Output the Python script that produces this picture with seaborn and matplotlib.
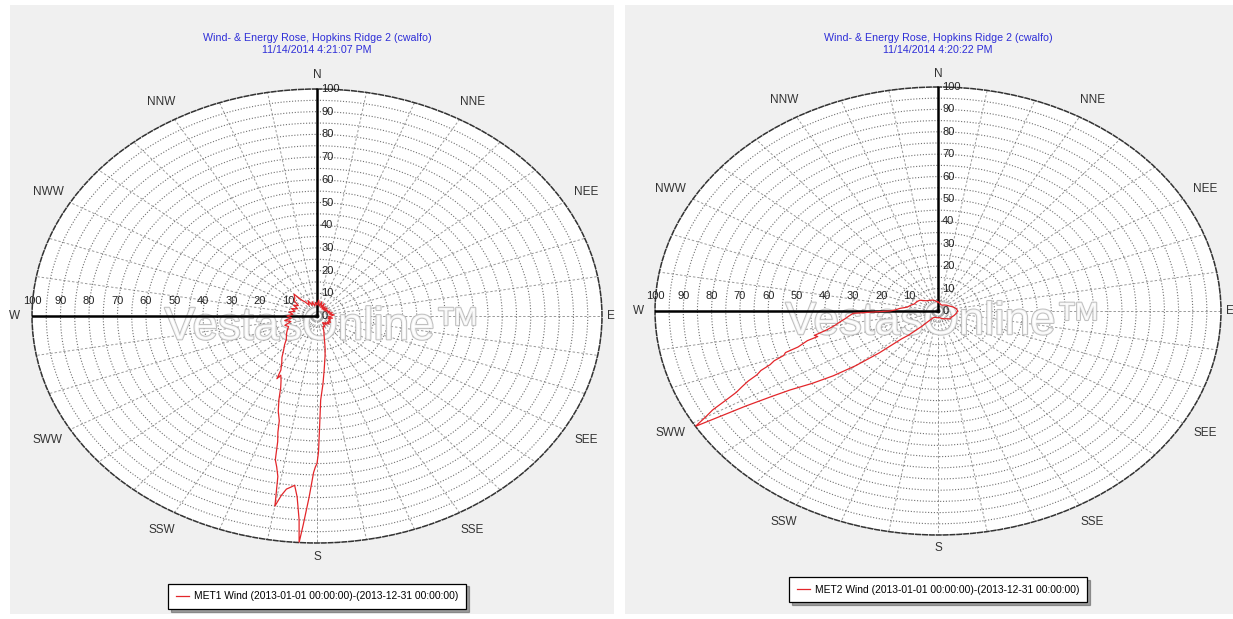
import numpy as np
import matplotlib
matplotlib.use("Agg")
import matplotlib.pyplot as plt
import matplotlib.patheffects as pe
from matplotlib.patches import Rectangle
from matplotlib.transforms import offset_copy
import seaborn as sns

plt.rcParams['font.family'] = ['Liberation Sans Narrow', 'Liberation Sans', 'DejaVu Sans']

# MET1 wind rose (direction in degrees, value in %)
met1_dir = [0, 5, 10, 15, 20, 25, 30, 35, 40, 45, 50, 55, 60, 65, 70, 75, 80, 85, 90, 95,
            100, 105, 110, 115, 120, 125, 130, 135, 140, 145, 150, 155, 160,
            164, 167, 169, 171, 174, 176, 178, 179, 179.5, 180, 180.5, 181, 182, 183, 183.6, 184,
            185, 186, 187, 188, 189, 190, 191, 192, 193, 194, 195, 196, 198, 200, 202, 204,
            206, 207, 208, 211, 214, 218, 222, 226, 230, 235, 240,
            245, 250, 255, 260, 265, 270, 275, 280, 285, 290, 295, 300, 305, 310, 315, 320,
            323, 326, 330, 335, 340, 345, 350, 355]
met1_val = [5, 7, 4.5, 6.5, 4, 6, 3.5, 5, 3.5, 5, 3.5, 4.5, 4, 5, 4, 5.5, 4.5, 6, 5, 4,
            5.5, 4, 5, 4.5, 5.5, 4.5, 5.5, 4, 5, 3.5, 5.5, 5, 7,
            9, 12, 15, 18, 24, 30, 37, 50, 60, 65, 66.5, 69, 80, 92, 100, 90,
            80, 75, 76, 77, 80, 85, 72, 68, 65, 57, 53, 48, 44, 39, 34, 31,
            29, 31, 27, 24, 22, 19, 17, 15, 14, 13, 12,
            11, 12, 9.5, 11.5, 9, 10.5, 8.5, 10, 8, 9.5, 7.5, 9.5, 8, 10.5, 11, 12.5,
            8.5, 7.5, 5.5, 7.5, 5, 6.5, 4.5, 6]

# MET2 wind rose
met2_dir = [0, 10, 20, 30, 40, 50, 60, 70, 80, 90, 100, 110, 120, 130, 140, 150, 160, 170,
            180, 190, 200, 210, 215, 220, 224, 226, 228, 230, 232, 234, 236, 237, 238, 239,
            240, 241, 242, 243, 244, 245, 246, 247, 248, 249, 250, 251, 252, 254, 255, 256,
            258, 260, 262, 264, 266, 268, 269, 270, 272, 275, 279, 285, 290, 300, 307, 315,
            320, 330, 340, 350]
met2_val = [4, 3.5, 3, 3, 3.5, 4, 4.5, 5.5, 6.5, 7, 6.5, 6, 5.5, 5.5, 4.5, 4, 3.5, 3,
            3, 3, 3, 3.5, 5, 9, 15, 18, 28, 38, 47, 55, 63, 70, 80, 100,
            95, 91, 85, 80, 77, 74, 70, 68, 64, 62, 58, 57, 52, 48, 44, 45,
            40, 37, 35, 33, 31.5, 30, 22, 17, 15, 13.5, 11, 10, 9, 8.5, 8, 6.5,
            6, 5.5, 5.2, 4.5]

compass_dirs = [0, 30, 60, 90, 120, 150, 180, 210, 240, 270, 300, 330]
compass_labels = ['N', 'NNE', 'NEE', 'E', 'SEE', 'SSE', 'S', 'SSW', 'SWW', 'W', 'NWW', 'NNW']
ring_labels = list(range(10, 101, 10))

titles = ["Wind- & Energy Rose, Hopkins Ridge 2 (cwalfo)\n11/14/2014 4:21:07 PM",
          "Wind- & Energy Rose, Hopkins Ridge 2 (cwalfo)\n11/14/2014 4:20:22 PM"]
series_labels = ["MET1 Wind (2013-01-01 00:00:00)-(2013-12-31 00:00:00)",
                 "MET2 Wind (2013-01-01 00:00:00)-(2013-12-31 00:00:00)"]

W, H = 1233, 619
fig = plt.figure(figsize=(W / 100, H / 100), dpi=100)
fig.patch.set_facecolor('white')

# grey panels behind the charts
for x0, x1 in [(10, 614), (625, 1233)]:
    fig.patches.append(Rectangle((x0 / W, 5 / H), (x1 - x0) / W, 609 / H,
                                 transform=fig.transFigure, facecolor='#f0f0f0',
                                 edgecolor='none', zorder=-5))

# (centre x, centre y, radius x, radius y) in pixels
layouts = [(317, 316, 285, 227), (938, 311, 283, 224)]
legend_y = [-0.078, -0.082]
data = [(met1_dir, met1_val), (met2_dir, met2_val)]

for i, (cx, cy, rx, ry) in enumerate(layouts):
    rect = [(cx - rx) / W, (H - cy - ry) / H, 2 * rx / W, 2 * ry / H]
    ax = fig.add_axes(rect, projection='polar')
    ax.set_aspect('auto')
    ax.set_facecolor('white')
    ax.set_theta_zero_location('N')
    ax.set_theta_direction(-1)

    ax.set_xticks(np.deg2rad(np.arange(0, 360, 10)))
    ax.set_yticks(np.arange(5, 101, 5))
    ax.set_xticklabels([])
    ax.set_yticklabels([])
    ax.xaxis.grid(True, color='#9a9a9a', linestyle=(0, (2.5, 2)), linewidth=0.7)
    ax.yaxis.grid(True, color='#707070', linestyle=(0, (1, 1.6)), linewidth=0.8)
    ax.tick_params(length=0)
    ax.spines['polar'].set_linestyle((0, (3, 1.5)))
    ax.spines['polar'].set_color('#333333')
    ax.spines['polar'].set_linewidth(1.1)

    # main axes: north and west
    ax.plot([0, 0], [0, 100], color='black', lw=1.8, zorder=3)
    ax.plot([np.deg2rad(270)] * 2, [0, 100], color='black', lw=1.8, zorder=3)

    # ring labels along the north and west axes
    tr_n = offset_copy(ax.transData, fig=fig, x=3, y=0, units='points')
    tr_w = offset_copy(ax.transData, fig=fig, x=0, y=11, units='points')
    ax.text(0, 0, '0', transform=tr_n, ha='left', va='center', fontsize=8, color='#222222', zorder=4)
    for r in ring_labels:
        ax.text(0, r, str(r), transform=tr_n, ha='left', va='center', fontsize=8,
                color='#222222', zorder=4)
        ax.text(np.deg2rad(270), r, str(r), transform=tr_w, ha='center', va='center',
                fontsize=8, color='#222222', zorder=4)

    # compass labels
    for d, lab in zip(compass_dirs, compass_labels):
        rr = 103 if d == 90 else (106 if d in (0, 180, 270) else 109)
        ax.text(np.deg2rad(d), rr, lab, ha='center', va='center', fontsize=8.5,
                color='#333333', clip_on=False)

    # watermark
    ax.text(0.51, 0.475, 'VestasOnline\u2122', transform=ax.transAxes, ha='center', va='center',
            fontsize=33, family=['Liberation Sans', 'DejaVu Sans'], color='white', alpha=0.85,
            zorder=2, path_effects=[pe.withStroke(linewidth=1.5, foreground='#b5b5b5')])

    dirs, vals = data[i]
    theta = np.deg2rad(np.append(dirs, dirs[0]))
    radius = np.append(vals, vals[0])
    sns.lineplot(x=theta, y=radius, sort=False, estimator=None, color='#e3262a', lw=0.9,
                 ax=ax, label=series_labels[i], zorder=5)
    ax.set_ylim(0, 100)

    leg = ax.legend(loc='upper center', bbox_to_anchor=(0.5, legend_y[i]), fontsize=7.4,
                    fancybox=False, shadow=True, edgecolor='black', framealpha=1,
                    handlelength=1.3, borderpad=0.75, handletextpad=0.5)
    leg.get_frame().set_linewidth(0.9)

    fig.text(cx / W, 1 - 44 / H, titles[i], ha='center', va='center', fontsize=7.7,
             color='#2e2ed8', linespacing=1.35)

fig.savefig('out.png', dpi=100, facecolor=fig.get_facecolor())
